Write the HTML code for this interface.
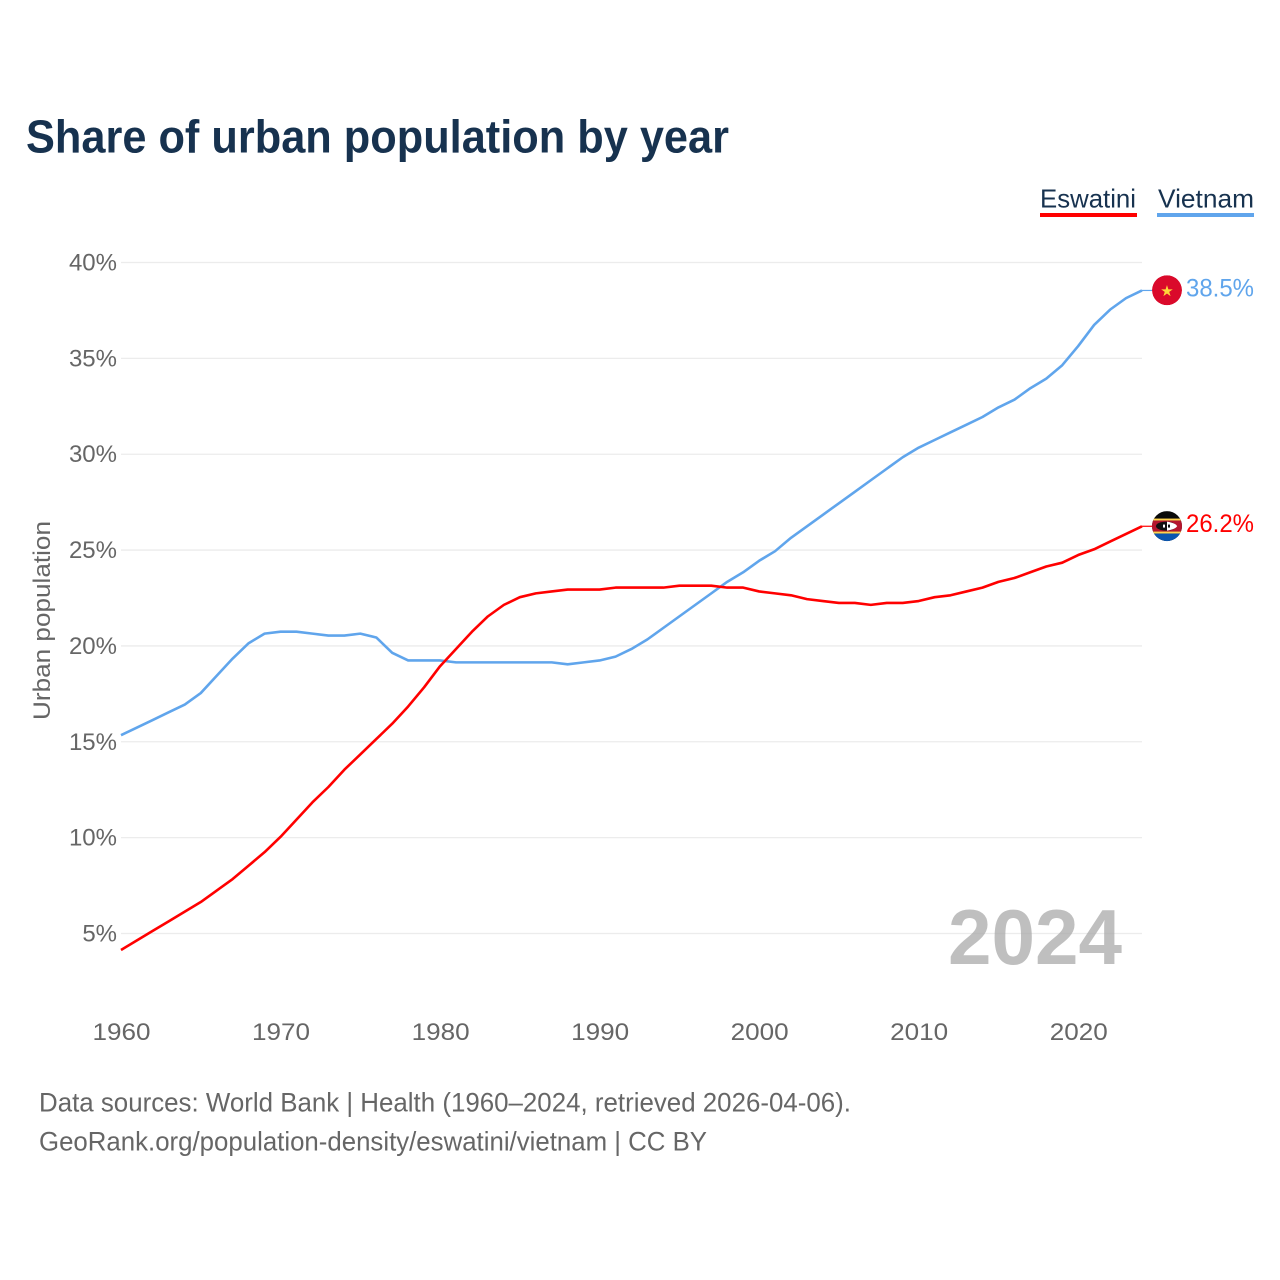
<!DOCTYPE html>
<html lang="en">
<head>
<meta charset="utf-8">
<title>Share of urban population by year</title>
<style>
html,body{margin:0;padding:0;background:#fff;}
svg{display:block;font-family:"Liberation Sans",sans-serif;}
</style>
</head>
<body>
<svg id="chart" width="1280" height="1280" viewBox="0 0 1280 1280" xmlns="http://www.w3.org/2000/svg">
  <defs>
    <clipPath id="flag-clip-vn"><circle cx="0" cy="0" r="15"/></clipPath>
    <clipPath id="flag-clip-sz"><circle cx="0" cy="0" r="15"/></clipPath>
  </defs>
  <rect width="1280" height="1280" fill="#fff"/>
  <text x="26" y="152.5" font-size="46" font-weight="700" fill="#17324f" textLength="703" lengthAdjust="spacingAndGlyphs">Share of urban population by year</text>

  <g id="grid"></g>
  <g id="yticks"></g>
  <g id="xticks"></g>

  <text transform="translate(50,620.5) rotate(-90)" text-anchor="middle" font-size="24" fill="#666" textLength="199" lengthAdjust="spacingAndGlyphs">Urban population</text>

  <text x="948" y="964" font-size="78" font-weight="700" fill="#a6a6a6" fill-opacity="0.72" textLength="174" lengthAdjust="spacingAndGlyphs">2024</text>

  <g id="series" transform="translate(0,-0.8)"></g>

  <g>
    <g>
      <text x="1040" y="207.5" font-size="26" fill="#17324f" textLength="96" lengthAdjust="spacingAndGlyphs">Eswatini</text>
      <rect x="1040" y="213" width="97" height="4" fill="#ff0000"/>
    </g>
    <g>
      <text x="1158" y="207.5" font-size="26" fill="#17324f" textLength="96" lengthAdjust="spacingAndGlyphs">Vietnam</text>
      <rect x="1157" y="213" width="97" height="4" fill="#60a5ec"/>
    </g>
  </g>

  <g id="flag-vn">
    <g clip-path="url(#flag-clip-vn)">
      <circle cx="0" cy="0" r="15" fill="#da0a2b"/>
      <text x="0" y="5.5" text-anchor="middle" font-size="15" fill="#ffd83a" font-family="'DejaVu Sans',sans-serif">★</text>
    </g>
  </g>
  <g id="flag-sz">
    <g clip-path="url(#flag-clip-sz)">
      <rect x="-15" y="-15" width="30" height="30" fill="#0a0a0a"/>
      <rect x="-15" y="-7.5" width="30" height="2" fill="#ffd34d"/>
      <rect x="-15" y="-5.5" width="30" height="11" fill="#b5162e"/>
      <rect x="-15" y="5.5" width="30" height="2" fill="#ffd34d"/>
      <rect x="-15" y="7.5" width="30" height="8" fill="#0a56b0"/>
      <ellipse cx="-1" cy="0" rx="10" ry="4.5" fill="#111"/>
      <path d="M0,-4.5 Q9,-3 10,0 Q9,3 0,4.5 Z" fill="#fff"/>
      <rect x="-4" y="-1.5" width="2" height="3" fill="#fff"/>
      <rect x="1" y="-1.5" width="2" height="3" fill="#111"/>
    </g>
  </g>
  <text id="label-vn" x="1186" font-size="25" fill="#60a5ec" textLength="68" lengthAdjust="spacingAndGlyphs"></text>
  <text id="label-sz" x="1186" font-size="25" fill="#ff0000" textLength="68" lengthAdjust="spacingAndGlyphs"></text>

  <text x="39" y="1111.5" font-size="26.5" fill="#666" textLength="812" lengthAdjust="spacingAndGlyphs">Data sources: World Bank | Health (1960–2024, retrieved 2026-04-06).</text>
  <text x="39" y="1150.5" font-size="26.5" fill="#666" textLength="668" lengthAdjust="spacingAndGlyphs">GeoRank.org/population-density/eswatini/vietnam | CC BY</text>
</svg>
<script>
const years = [1960,1961,1962,1963,1964,1965,1966,1967,1968,1969,1970,1971,1972,1973,1974,1975,1976,1977,1978,1979,1980,1981,1982,1983,1984,1985,1986,1987,1988,1989,1990,1991,1992,1993,1994,1995,1996,1997,1998,1999,2000,2001,2002,2003,2004,2005,2006,2007,2008,2009,2010,2011,2012,2013,2014,2015,2016,2017,2018,2019,2020,2021,2022,2023,2024];
const eswatini = [4.1,4.6,5.1,5.6,6.1,6.6,7.2,7.8,8.5,9.2,10.0,10.9,11.8,12.6,13.5,14.3,15.1,15.9,16.8,17.8,18.9,19.8,20.7,21.5,22.1,22.5,22.7,22.8,22.9,22.9,22.9,23.0,23.0,23.0,23.0,23.1,23.1,23.1,23.0,23.0,22.8,22.7,22.6,22.4,22.3,22.2,22.2,22.1,22.2,22.2,22.3,22.5,22.6,22.8,23.0,23.3,23.5,23.8,24.1,24.3,24.7,25.0,25.4,25.8,26.2];
const vietnam = [15.3,15.7,16.1,16.5,16.9,17.5,18.4,19.3,20.1,20.6,20.7,20.7,20.6,20.5,20.5,20.6,20.4,19.6,19.2,19.2,19.2,19.1,19.1,19.1,19.1,19.1,19.1,19.1,19.0,19.1,19.2,19.4,19.8,20.3,20.9,21.5,22.1,22.7,23.3,23.8,24.4,24.9,25.6,26.2,26.8,27.4,28.0,28.6,29.2,29.8,30.3,30.7,31.1,31.5,31.9,32.4,32.8,33.4,33.9,34.6,35.6,36.7,37.5,38.1,38.5];
const yTickValues = [5,10,15,20,25,30,35,40];
const xTickValues = [1960,1970,1980,1990,2000,2010,2020];

const NS = 'http://www.w3.org/2000/svg';
function xScale(year){ return 121 + (year - 1960) * (1142 - 121) / 64; }
function yScale(v){ return 933.5 - (v - 5) * (933.5 - 262.5) / 35; }

const grid = document.getElementById('grid');
const yticksG = document.getElementById('yticks');
yTickValues.forEach(function(v){
  const l = document.createElementNS(NS,'line');
  
  
  l.setAttribute('x1', 121);
  l.setAttribute('x2', 1142);
  l.setAttribute('y1', yScale(v));
  l.setAttribute('y2', yScale(v));
  l.setAttribute('stroke', '#ececec');
  l.setAttribute('stroke-width', '1.3');
  grid.appendChild(l);
  const t = document.createElementNS(NS,'text');
  
  
  t.setAttribute('x', 117);
  t.setAttribute('y', yScale(v) + 8);
  t.setAttribute('text-anchor', 'end');
  t.setAttribute('font-size', '24');
  t.setAttribute('fill', '#666');
  t.textContent = v + '%';
  yticksG.appendChild(t);
});

const xticksG = document.getElementById('xticks');
xTickValues.forEach(function(y){
  const t = document.createElementNS(NS,'text');
  
  
  t.setAttribute('x', xScale(y) + 0.5);
  t.setAttribute('y', 1040);
  t.setAttribute('text-anchor', 'middle');
  t.setAttribute('font-size', '24');
  t.setAttribute('fill', '#666');
  t.setAttribute('textLength', '58');
  t.setAttribute('lengthAdjust', 'spacingAndGlyphs');
  t.textContent = y;
  xticksG.appendChild(t);
});

const seriesG = document.getElementById('series');
function drawSeries(values, color, name){
  const pts = values.map(function(v,i){ return xScale(years[i]).toFixed(2) + ',' + yScale(v).toFixed(2); }).join(' ');
  const p = document.createElementNS(NS,'polyline');
  
  
  p.setAttribute('points', pts);
  p.setAttribute('fill', 'none');
  p.setAttribute('stroke', color);
  p.setAttribute('stroke-width', '2.6');
  p.setAttribute('stroke-linejoin', 'round');
  seriesG.appendChild(p);
  const last = values[values.length - 1];
  const c = document.createElementNS(NS,'line');
  
  
  c.setAttribute('x1', xScale(years[years.length - 1]));
  c.setAttribute('x2', 1152);
  c.setAttribute('y1', yScale(last));
  c.setAttribute('y2', yScale(last));
  c.setAttribute('stroke', color);
  c.setAttribute('stroke-width', '1.2');
  seriesG.appendChild(c);
}
drawSeries(vietnam, '#60a5ec', 'vietnam-line');
drawSeries(eswatini, '#ff0000', 'eswatini-line');

const lastV = vietnam[vietnam.length - 1];
const lastE = eswatini[eswatini.length - 1];
document.getElementById('flag-vn').setAttribute('transform', 'translate(1167,' + (yScale(lastV) - 1) + ')');
document.getElementById('flag-sz').setAttribute('transform', 'translate(1167,' + (yScale(lastE) - 1) + ')');
const lv = document.getElementById('label-vn');
lv.setAttribute('y', yScale(lastV) + 5);
lv.textContent = lastV.toFixed(1) + '%';
const le = document.getElementById('label-sz');
le.setAttribute('y', yScale(lastE) + 5);
le.textContent = lastE.toFixed(1) + '%';
</script>
</body>
</html>
